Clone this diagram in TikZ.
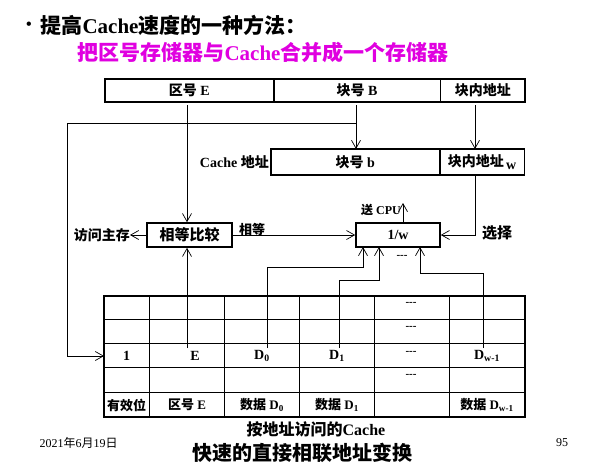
\documentclass[tikz,border=0pt]{standalone}
\usepackage{fontspec}
\setmainfont{Liberation Serif}
\newfontfamily\cjk{Noto Sans CJK SC}
\usepackage{tikz}
\usetikzlibrary{arrows.meta,positioning,calc}
\definecolor{slideMag}{HTML}{E000E0}
\newcommand{\zh}[1]{{\cjk #1}}
\newcommand{\fs}[1]{\fontsize{#1}{#1}\selectfont}

\begin{document}
\begin{tikzpicture}[x=1pt, y=-1pt, font=\bfseries\fs{14}, >={Straight Barb[length=8pt,width=9pt]}]
\tikzset{
  wire/.style={line width=0.7pt},
  cell/.style={draw, line width=0.7pt, inner sep=0pt, anchor=north west},
  unit/.style={draw, line width=1.6pt, inner sep=0pt, minimum width=85pt, minimum height=24pt},
}
\useasboundingbox (0,0) rectangle (603,472);
% ---------- heading ----------
\node (dot) at (29,26) {\fs{16}\textbullet};
\node[anchor=west, font=\bfseries\fs{21}] (head) at (37,25) {\zh{提高}Cache\zh{速度的一种方法：}};
\node[anchor=west, text=slideMag, font=\bfseries\fs{21}] (sub) at (74,52) {\zh{把区号存储器与}Cache\zh{合并成一个存储器}};
% ---------- main memory address ----------
\node[cell, minimum width=168pt, minimum height=22pt] (zone) at (105,79) {\zh{区号} E};
\node[cell, minimum width=166pt, minimum height=22pt] (blk) at (zone.north east) {\zh{块号} B};
\node[cell, minimum width=84pt, minimum height=22pt] (off) at (blk.north east) {\zh{块内地址}};
\draw[line width=1.6pt] (zone.north west) rectangle (off.south east);
% ---------- cache address ----------
\node[cell, minimum width=168pt, minimum height=25pt] (cblk) at (271,149) {\zh{块号} b};
\node[cell, minimum width=84pt, minimum height=25pt] (coff) at (cblk.north east) {\zh{块内地址}\,\raisebox{-3pt}{w}};
\draw[line width=1.6pt] (cblk.north west) rectangle (coff.south east);
\node[anchor=east, inner sep=2pt] (clabel) at (cblk.west) {\fs{14}Cache \zh{地址}};
% ---------- compare and select ----------
\node[unit] (cmp) at (189.5,235) {\fs{15}\zh{相等比较}};
\node[unit, minimum width=84pt] (sel) at (398,235) {1/w};
\node[anchor=east, inner sep=0pt] (mem) at (130,235) {\zh{访问主存}};
\node (eq) at (252,229) {\fs{13}\zh{相等}};
\node (cpu) at (381,210) {\fs{12}\zh{送} CPU};
\node (choose) at (497,233) {\fs{15}\zh{选择}};
\node (more) at (402,257) {\fs{11}-{}-{}-};
% ---------- cache table ----------
\foreach \xx in {149,224,299,374,449}
  \draw[line width=1pt] (\xx,296) -- (\xx,417);
\foreach \yy in {319,343,367,392}
  \draw[line width=1pt] (104,\yy) -- (525,\yy);
\draw[line width=2pt] (104,296) rectangle (525,417);
\foreach \r/\yy in {1/304,2/328,3/353,4/376}
  \node (gap\r) at (411,\yy) {\fs{11}-{}-{}-};
\node (bit) at (126.5,356) {1};
\node (tagE) at (195,356) {E};
\node (dat0) at (262,356) {D\textsubscript{0}};
\node (dat1) at (337,356) {D\textsubscript{1}};
\node (datw) at (487,356) {D\textsubscript{w-1}};
\node (hV) at (126.5,405) {\fs{13}\zh{有效位}};
\node (hE) at (187,405) {\fs{13}\zh{区号} E};
\node (hD0) at (262,405) {\fs{13}\zh{数据} D\textsubscript{0}};
\node (hD1) at (337,405) {\fs{13}\zh{数据} D\textsubscript{1}};
\node (hDw) at (487,405) {\fs{13}\zh{数据} D\textsubscript{w-1}};
\node (cap) at (316,429) {\fs{16}\zh{按地址访问的}Cache};
% ---------- footer ----------
\node (foot) at (302,453) {\fs{20}\zh{快速的直接相联地址变换}};
\node[anchor=west] (date) at (36,443) {\mdseries\fs{12}2021\zh{年}6\zh{月}19\zh{日}};
\node (page) at (562,443) {\mdseries\fs{12}95};
% ---------- wiring ----------
\coordinate (eTap) at (187,105);
\coordinate (bTap) at (356,105);
\coordinate (wTap) at (475,105);
\coordinate (bend) at (356,123);
\coordinate (lft) at (67,356);
\coordinate (cpuTap) at (403,203);
\coordinate (eIn) at (187,348);
\coordinate (d0In) at (267,348);
\coordinate (d1In) at (339,348);
\coordinate (dwIn) at (483,348);
\coordinate (j0) at (267,267);
\coordinate (j1) at (339,280);
\coordinate (jw) at (483,273);
\coordinate (s0) at (363,247);
\coordinate (s1) at (379,247);
\coordinate (sw) at (420,247);
\draw[wire,->] (eTap) -- (eTap |- cmp.north);
\draw[wire,->] (bTap) -- (bTap |- cblk.north);
\draw[wire,->] (wTap) -- (wTap |- coff.north);
\draw[wire,->] (bend) -| (lft) -- (104,356);
\draw[wire,->] (wTap |- coff.south) |- (sel.east);
\draw[wire,->] (cmp.west) -- (mem.east);
\draw[wire,->] (cmp.east) -- (sel.west);
\draw[wire,->] (cpuTap |- sel.north) -- (cpuTap);
\draw[wire,->] (eIn) -- (eIn |- cmp.south);
\draw[wire,->] (d0In) -- (j0) -| (s0);
\draw[wire,->] (d1In) -- (j1) -| (s1);
\draw[wire,->] (dwIn) -- (jw) -| (sw);
\end{tikzpicture}
\end{document}
